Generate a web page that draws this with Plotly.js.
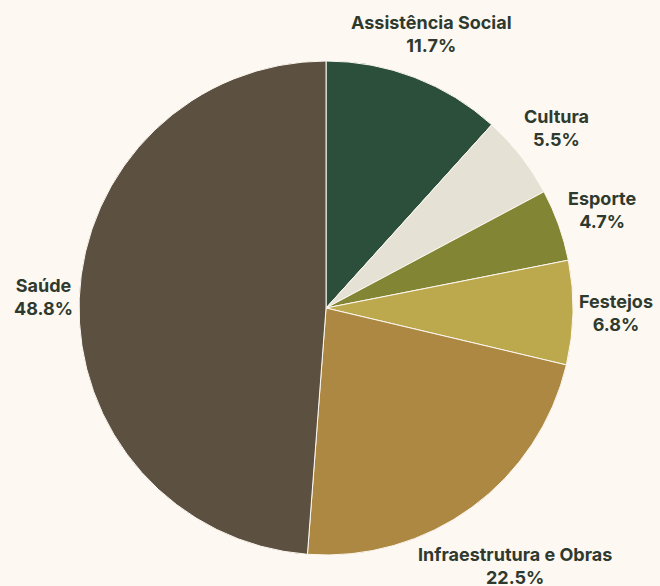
<!DOCTYPE html>
<html>
<head>
<meta charset="utf-8">
<script src="https://cdn.plot.ly/plotly-3.0.1.min.js"></script>
<style>html,body{margin:0;padding:0;background:#fdf8f2;}</style>
</head>
<body>
<div id="chart" style="width:660px;height:586px;"></div>
<script>
const labels = ["Assistência Social", "Cultura", "Esporte", "Festejos", "Infraestrutura e Obras", "Saúde"];
const values = [11.7, 5.5, 4.7, 6.8, 22.5, 48.8];
const colors = ["#2b4f3a", "#e6e1d5", "#818534", "#bca84d", "#ad8842", "#5c5040"];

const W = 660, H = 586;
const dom = {x: [0.1, 0.888], y: [0.0529, 0.8959]};
const FONT = {family: "Inter, sans-serif", size: 18, color: "#2f3a2f", weight: 700};
const GAP = 6;

// Pie geometry derived from the layout
const cx = W * (dom.x[0] + dom.x[1]) / 2;
const cy = H * (1 - (dom.y[0] + dom.y[1]) / 2);
const R = Math.min(W * (dom.x[1] - dom.x[0]), H * (dom.y[1] - dom.y[0])) / 2;

const ctx = document.createElement("canvas").getContext("2d");
ctx.font = "700 18px Inter";

const total = values.reduce((a, b) => a + b, 0);
let cum = 0;
const annotations = labels.map((lab, i) => {
  const mid = (cum + values[i] / 2) / total * 2 * Math.PI;
  cum += values[i];
  const pct = (values[i] / total * 100).toFixed(1) + "%";
  const w = Math.max(ctx.measureText(lab).width, ctx.measureText(pct).width);
  const h = 44;
  const ux = Math.sin(mid), uy = -Math.cos(mid);
  let r = R, px = cx, py = cy;
  for (; r < 2 * R; r += 0.5) {
    px = cx + r * ux; py = cy + r * uy;
    const nx = Math.min(Math.max(cx, px - w / 2), px + w / 2);
    const ny = Math.min(Math.max(cy, py - h / 2), py + h / 2);
    if (Math.hypot(nx - cx, ny - cy) >= R + GAP) break;
  }
  return {
    xref: "paper", yref: "paper",
    x: px / W, y: 1 - py / H,
    xanchor: "center", yanchor: "middle", align: "center",
    showarrow: false,
    text: lab + "<br>" + pct,
    font: FONT
  };
});

Plotly.newPlot("chart", [{
  type: "pie",
  labels: labels,
  values: values,
  sort: false,
  direction: "clockwise",
  rotation: 0,
  marker: {colors: colors, line: {color: "#fdf8f2", width: 1}},
  textinfo: "none",
  hoverinfo: "label+percent",
  domain: dom,
  showlegend: false
}], {
  width: W,
  height: H,
  margin: {l: 0, r: 0, t: 0, b: 0},
  paper_bgcolor: "#fdf8f2",
  plot_bgcolor: "#fdf8f2",
  showlegend: false,
  annotations: annotations
}, {displayModeBar: false});
</script>
</body>
</html>
